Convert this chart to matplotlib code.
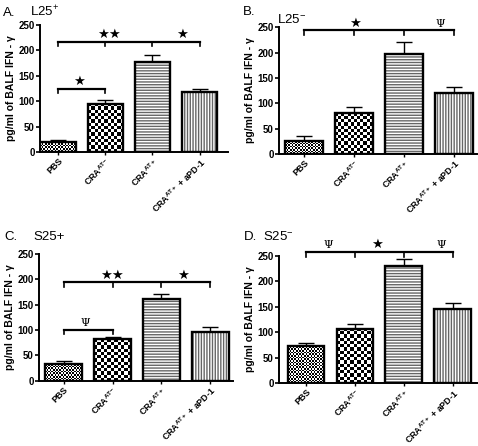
import numpy as np
import matplotlib
matplotlib.use('Agg')
import matplotlib.pyplot as plt

plt.rcParams['font.family'] = ['Liberation Sans', 'DejaVu Sans']
plt.rcParams['mathtext.fontset'] = 'custom'
plt.rcParams['mathtext.rm'] = 'Liberation Sans'
plt.rcParams['mathtext.bf'] = 'Liberation Sans:bold'
plt.rcParams['hatch.linewidth'] = 1.0

# --- data ---
groups = ['PBS', 'CRA$^{\\mathbf{AT{-}}}$', 'CRA$^{\\mathbf{AT+}}$', 'CRA$^{\\mathbf{AT+}}$ + aPD-1']

means_a = [20, 95, 178, 118]
errs_a = [4, 7, 13, 6]
means_b = [25, 80, 197, 120]
errs_b = [10, 12, 23, 11]
means_c = [33, 82, 162, 97]
errs_c = [6, 4, 8, 9]
means_d = [73, 107, 230, 145]
errs_d = [5, 10, 15, 13]

letters = ['A.', 'B.', 'C.', 'D.']
subsets = ['L25$^{+}$', 'L25$^{-}$', 'S25+', 'S25$^{-}$']

# (y of bracket, [(x, label), ...]) for the long bracket over all 4 bars
sig_long = [
    (217, [(1.08, '★★'), (2.62, '★')]),
    (244, [(1.02, '★'), (2.72, 'Ψ')]),
    (194, [(0.98, '★★'), (2.44, '★')]),
    (258, [(0.45, 'Ψ'), (1.46, '★'), (2.76, 'Ψ')]),
]
# short bracket PBS vs CRA AT-
sig_short = [(125, '★'), None, (101, 'Ψ'), None]

# axes boxes in figure fraction and x limits
boxes = [
    [0.084, 0.659, 0.393, 0.285],
    [0.584, 0.655, 0.414, 0.284],
    [0.082, 0.146, 0.405, 0.285],
    [0.584, 0.141, 0.414, 0.285],
]
xlims = [(-0.38, 3.6), (-0.5, 3.46), (-0.5, 3.46), (-0.55, 3.5)]
# where the panel letter and subset name sit (fig fraction)
letter_pos = [(0.006, 0.964), (0.508, 0.966), (0.010, 0.462), (0.510, 0.462)]
subset_pos = [(0.063, 0.964), (0.580, 0.948), (0.070, 0.462), (0.550, 0.462)]


def checker_fill(ax, bar, cell_px):
    # checkerboard texture clipped to a bar
    x0, y0 = bar.get_x(), bar.get_y()
    w, h = bar.get_width(), bar.get_height()
    p0 = ax.transData.transform((x0, y0))
    p1 = ax.transData.transform((x0 + w, y0 + h))
    nx = max(1, int(round(abs(p1[0] - p0[0]) / cell_px)))
    ny = max(1, int(round(abs(p1[1] - p0[1]) / cell_px)))
    img = (np.add.outer(np.arange(ny), np.arange(nx)) % 2).astype(float)
    im = ax.imshow(img, cmap='gray', vmin=0, vmax=1, extent=(x0, x0 + w, y0, y0 + h),
                   interpolation='nearest', aspect='auto', zorder=1)
    im.set_clip_path(bar)


def sig_text(ax, xm, y, lab, clip=True):
    if lab == 'Ψ':
        ax.text(xm, y + 3, lab, ha='center', va='bottom', fontsize=8,
                family=['DejaVu Serif'], clip_on=clip)
    else:
        ax.text(xm, y + 1, lab, ha='center', va='bottom', fontsize=9.5,
                family=['DejaVu Sans'], clip_on=clip)


fig = plt.figure(figsize=(4.78, 4.46), dpi=100)

all_means = [means_a, means_b, means_c, means_d]
all_errs = [errs_a, errs_b, errs_c, errs_d]

for i in range(4):
    ax = fig.add_axes(boxes[i])
    x = np.arange(4)
    means = all_means[i]
    errs = all_errs[i]
    ax.set_xlim(*xlims[i])
    ax.set_ylim(0, 250)

    ax.errorbar(x, means, yerr=[[0] * 4, errs], fmt='none', ecolor='black',
                elinewidth=1.0, capsize=6, capthick=1.0, zorder=0)
    bars = ax.bar(x, means, width=0.75, color='white', edgecolor='black',
                  linewidth=1.7, zorder=2)
    bars[0].set_facecolor('none')
    bars[1].set_facecolor('none')
    bars[2].set_hatch('------')
    bars[3].set_hatch('||||||')
    checker_fill(ax, bars[0], 1.6)
    checker_fill(ax, bars[1], 3.2)
    for b in bars[2:]:
        b._hatch_color = (0.4, 0.4, 0.4, 1)

    ax.spines['top'].set_visible(False)
    ax.spines['right'].set_visible(False)
    ax.spines['left'].set_linewidth(1.4)
    ax.spines['bottom'].set_linewidth(1.4)
    ax.set_yticks([0, 50, 100, 150, 200, 250])
    ax.tick_params(axis='y', labelsize=7, length=3, width=1.2, pad=1)
    ax.set_xticks(x)
    ax.set_xticklabels(groups, rotation=45, ha='right', rotation_mode='anchor',
                       fontsize=6.4, fontweight='bold')
    ax.tick_params(axis='x', length=2.5, width=1.0, pad=0.5)
    for lab in ax.get_yticklabels():
        lab.set_fontweight('bold')
    ax.set_ylabel('pg/ml of BALF IFN - γ', fontsize=7.5, fontweight='bold', labelpad=2)

    # long bracket
    yb, marks = sig_long[i]
    ax.plot([0, 3], [yb, yb], color='black', lw=1.6, clip_on=False)
    for xt in x:
        ax.plot([xt, xt], [yb, yb - 9], color='black', lw=1.2, clip_on=False)
    for xm, lab in marks:
        sig_text(ax, xm, yb, lab, clip=False)

    short = sig_short[i]
    if short is not None:
        ys, lab = short
        ax.plot([0, 1], [ys, ys], color='black', lw=1.6)
        ax.plot([0, 0], [ys, ys - 8], color='black', lw=1.2)
        ax.plot([1, 1], [ys, ys - 8], color='black', lw=1.2)
        sig_text(ax, 0.45, ys, lab)

    fig.text(letter_pos[i][0], letter_pos[i][1], letters[i], fontsize=9.5)
    fig.text(subset_pos[i][0], subset_pos[i][1], subsets[i], fontsize=9.5)

fig.savefig('out.png', dpi=100)
